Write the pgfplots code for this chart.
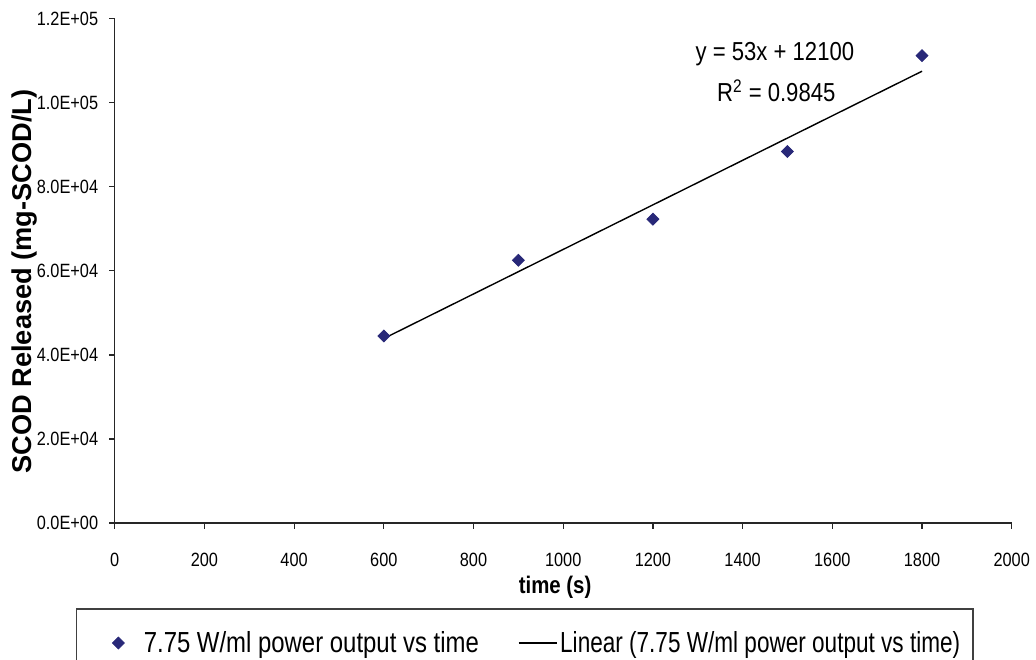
\documentclass[border=0pt]{standalone}
\usepackage{pgfplots}
\pgfplotsset{compat=1.18}
\usepackage{fontspec}
\setmainfont{Liberation Sans}[FakeStretch=0.85]
\newfontfamily\wideff{Liberation Sans}
\newfontfamily\legA{Liberation Sans}[FakeStretch=0.825]
\newfontfamily\legB{Liberation Sans}[FakeStretch=0.778]
\definecolor{navy}{RGB}{40,40,120}
\newcommand{\tickf}{\fontsize{9.6}{11}\selectfont}
\newcommand{\legf}{\fontsize{14.5}{17}\selectfont}
\newcommand{\eqf}{\fontsize{13}{15}\selectfont}
\begin{document}
\begin{tikzpicture}
\useasboundingbox (-57.35pt,-68pt) rectangle (460.65pt,261.5pt);
\begin{axis}[
  at={(0,0)}, anchor=south west,
  scale only axis, width=448.5pt, height=252.15pt,
  xmin=0, xmax=2000, ymin=0, ymax=120000,
  axis lines=left,
  axis line style={-, draw=black!85, line width=0.6pt},
  tick align=outside,
  major tick length=2.75pt,
  tick style={black!85, line width=0.6pt},
  scaled y ticks=false, scaled x ticks=false,
  /pgf/number format/assume math mode=true,
  xtick={0,200,400,600,800,1000,1200,1400,1600,1800,2000},
  xticklabels={0,200,400,600,800,1000,1200,1400,1600,1800,2000},
  ytick={0,20000,40000,60000,80000,100000,120000},
  yticklabels={0.0E+00,2.0E+04,4.0E+04,6.0E+04,8.0E+04,1.0E+05,1.2E+05},
  xticklabel style={font=\tickf, anchor=base, inner sep=0pt, yshift=-18.85pt},
  yticklabel style={font=\tickf, anchor=east, inner sep=0pt, xshift=-5.35pt},
  legend columns=2,
  legend cell align=left,
  legend style={draw=none, fill=none, at={(axis description cs:0,0)}, anchor=base west,
    xshift=-1.35pt, yshift=-60pt, inner sep=0pt, outer sep=0pt, font=\legf,
    nodes={inner sep=0pt, outer sep=0pt}, column sep=0pt, row sep=0pt},
]
\addplot[only marks, mark=square*, mark size=2.1pt,
  mark options={rotate=45, fill=navy, draw=navy},
  legend image code/.code={\path (-3pt,0pt) (12.5pt,0pt);
    \draw[only marks, mark=square*, mark size=2.1pt, mark options={rotate=45, fill=navy, draw=navy}] plot coordinates {(0pt,0pt)};}]
  coordinates {(600,44500) (900,62500) (1200,72300) (1500,88400) (1800,111200)};
\addlegendentry{\makebox[167.5pt][l]{\legA 7.75 W/ml power output vs time}}
\addplot[black, line width=0.7pt,
  legend image code/.code={\path (-19.5pt,0pt) (20.5pt,0pt);
    \draw[black, line width=0.7pt] (0pt,0pt) -- (19pt,0pt);}]
  coordinates {(600,43900) (1800,107500)};
\addlegendentry{\legB Linear (7.75 W/ml power output vs time)}
\node[anchor=base, font=\eqf] at (axis cs:1472,110170) {y = 53x + 12100};
\node[anchor=base, font=\eqf] at (axis cs:1475,100250) {R\textsuperscript{2} = 0.9845};
\end{axis}
\node[anchor=base, font=\fontsize{12}{14}\selectfont\bfseries] at (220.2pt,-35pt) {time (s)};
\node[rotate=90, anchor=base, font=\wideff\fontsize{13.6}{16}\selectfont\bfseries] at (-41.5pt,120.75pt) {SCOD Released (mg-SCOD/L)};
\draw[black!75, line width=0.6pt] (-19pt,-75pt) -- (-19pt,-43pt) -- (429.15pt,-43pt) -- (429.15pt,-75pt);
\end{tikzpicture}
\end{document}
